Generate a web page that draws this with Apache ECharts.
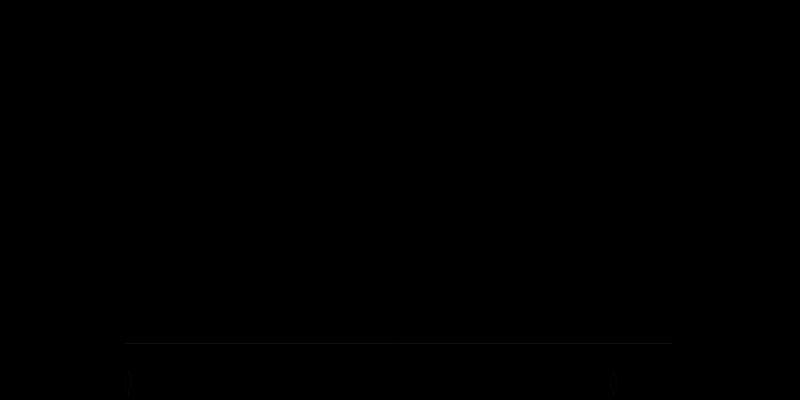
<!DOCTYPE html>
<html>
<head>
<meta charset="utf-8">
<script src="https://cdn.jsdelivr.net/npm/echarts@6/dist/echarts.min.js"></script>
<style>
html,body{margin:0;padding:0;background:#000;}
#chart{width:800px;height:400px;background:#000;}
</style>
</head>
<body>
<div id="chart"></div>
<script>
// Categories and OHLC-style values (the reference renders black-on-black; values estimated)
const categories = ['D1','D2','D3','D4','D5','D6','D7','D8','D9','D10','D11','D12','D13','D14'];
const openValues  = [62, 66, 70, 80, 74, 68, 72, 60, 58, 64, 67, 63, 61, 65];
const closeValues = [66, 70, 80, 74, 68, 72, 60, 58, 64, 67, 63, 61, 65, 69];
const lowValues   = [58, 62, 66, 70, 62, 60, 56, 50, 52, 58, 60, 57, 55, 60];
const highValues  = [70, 75, 90, 86, 80, 78, 76, 66, 70, 72, 71, 68, 70, 74];

const candleData = categories.map((c, i) => [openValues[i], closeValues[i], lowValues[i], highValues[i]]);

const chart = echarts.init(document.getElementById('chart'), null, {renderer: 'canvas'});
chart.setOption({
  backgroundColor: '#000',
  animation: false,
  grid: {left: 125, right: 128, top: 60, bottom: 57},
  xAxis: {
    type: 'category',
    data: categories,
    axisLine: {lineStyle: {color: '#0e0e0e'}},
    axisTick: {show: false},
    axisLabel: {color: '#000'}
  },
  yAxis: {
    type: 'value',
    scale: true,
    axisLine: {show: false},
    axisLabel: {color: '#000'},
    splitLine: {show: false}
  },
  dataZoom: [{
    type: 'slider',
    left: 125, right: 188, bottom: 5, height: 25,
    start: 0, end: 100,
    backgroundColor: '#000',
    borderColor: '#000',
    fillerColor: 'rgba(0,0,0,1)',
    dataBackground: {lineStyle: {color: '#000'}, areaStyle: {color: '#000'}},
    selectedDataBackground: {lineStyle: {color: '#000'}, areaStyle: {color: '#000'}},
    handleStyle: {color: '#000', borderColor: '#060606'},
    moveHandleSize: 0,
    moveHandleStyle: {color: '#000', opacity: 0},
    textStyle: {color: '#000'},
    showDetail: false
  }],
  series: [{
    type: 'candlestick',
    data: candleData,
    itemStyle: {
      color: '#000', color0: '#000',
      borderColor: '#000', borderColor0: '#000'
    }
  }]
});
</script>
</body>
</html>
